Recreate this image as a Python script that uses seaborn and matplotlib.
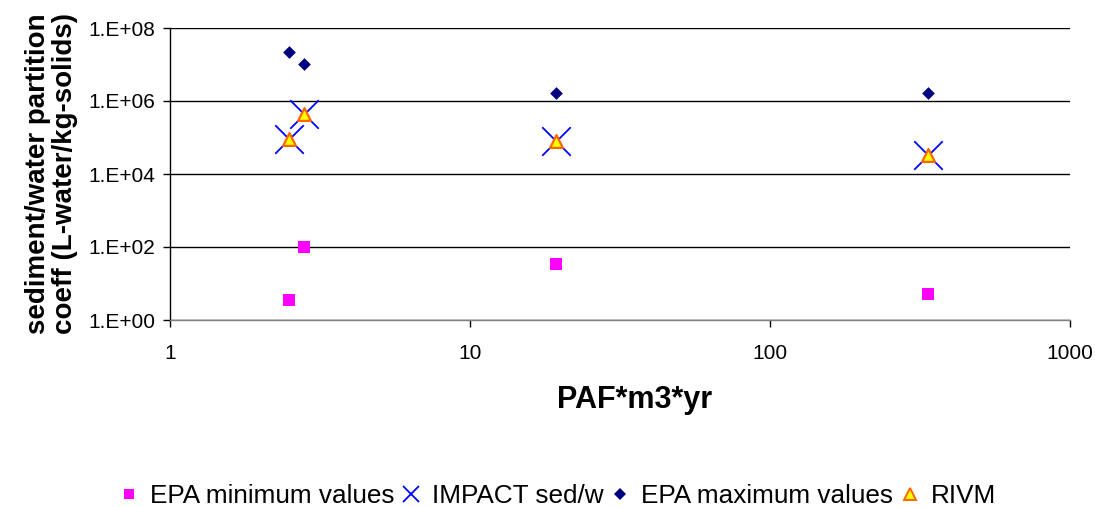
import matplotlib
matplotlib.use("Agg")
import matplotlib.pyplot as plt
import matplotlib.ticker as mticker
from matplotlib.lines import Line2D
import seaborn as sns
import pandas as pd

# Data
paf = [2.5, 2.8, 19.3, 335]
epa_min = [3.6, 100, 35, 5.2]
impact = [8.9e4, 4.4e5, 7.9e4, 3.4e4]
epa_max = [2.15e7, 1.03e7, 1.66e6, 1.66e6]
rivm = [8.9e4, 4.4e5, 7.9e4, 3.4e4]

series_names = ["EPA minimum values", "IMPACT sed/w", "EPA maximum values", "RIVM"]
x_ticks = [1, 10, 100, 1000]
x_ticklabels = ["1", "10", "100", "1000"]
y_ticks = [1e0, 1e2, 1e4, 1e6, 1e8]
y_ticklabels = ["1.E+00", "1.E+02", "1.E+04", "1.E+06", "1.E+08"]

sns.set_style("white")
plt.rcParams['font.family'] = ['Liberation Sans', 'DejaVu Sans']
plt.rcParams['text.color'] = 'black'
plt.rcParams['axes.labelcolor'] = 'black'
plt.rcParams['xtick.color'] = 'black'
plt.rcParams['ytick.color'] = 'black'

fig = plt.figure(figsize=(10.95, 5.07), dpi=100)
ax = fig.add_axes([170/1095, 1 - 320/507, (1070-170)/1095, (320-28)/507])

df = pd.DataFrame({"x": paf, "min": epa_min, "impact": impact, "max": epa_max, "rivm": rivm})

sns.scatterplot(data=df, x="x", y="min", ax=ax, marker="s", s=70, color="#FF00FF",
                edgecolor="#FF00FF", linewidth=0, zorder=3)
sns.scatterplot(data=df, x="x", y="impact", ax=ax, marker="x", s=420, color="#0000FF",
                linewidth=1.3, zorder=3)
sns.scatterplot(data=df, x="x", y="max", ax=ax, marker="D", s=42, color="#000080",
                edgecolor="#000080", linewidth=0, zorder=3)
sns.scatterplot(data=df, x="x", y="rivm", ax=ax, marker="^", s=85, color="#FFFF00",
                edgecolor="#FF6600", linewidth=1.6, zorder=4)

ax.set_xscale("log")
ax.set_yscale("log")
ax.set_xlim(1, 1000)
ax.set_ylim(1, 1e8)
ax.set_xticks(x_ticks)
ax.set_xticklabels(x_ticklabels)
ax.set_yticks(y_ticks)
ax.set_yticklabels(y_ticklabels)
ax.xaxis.set_minor_locator(mticker.NullLocator())
ax.yaxis.set_minor_locator(mticker.NullLocator())

ax.yaxis.grid(True, color="black", linewidth=1)
ax.xaxis.grid(False)
ax.set_axisbelow(True)
for side in ["top", "right"]:
    ax.spines[side].set_visible(False)
for side in ["left", "bottom"]:
    ax.spines[side].set_color("black")
    ax.spines[side].set_linewidth(1)
ax.spines["bottom"].set_color("#808080")

ax.tick_params(axis="both", which="major", direction="out", length=5, width=1,
               color="black", labelcolor="black", labelsize=15, bottom=True, left=True)
ax.tick_params(axis="y", pad=5.5)
ax.tick_params(axis="x", pad=12)

ax.set_xlabel("PAF*m3*yr", fontsize=22, fontweight="bold", color="black")
ax.xaxis.set_label_coords((635 - 170) / 900, (320 - 385) / 292)
ax.set_ylabel("sediment/water partition\ncoeff (L-water/kg-solids)", fontsize=20,
              fontweight="bold", linespacing=1.05, color="black")
ax.yaxis.set_label_coords((78 - 170) / 900, 0.5)

handles = [
    Line2D([], [], linestyle="none", marker="s", markersize=7.5, color="#FF00FF", markeredgewidth=0),
    Line2D([], [], linestyle="none", marker="x", markersize=11, color="#0000FF", markeredgewidth=1.3),
    Line2D([], [], linestyle="none", marker="D", markersize=6.5, color="#000080", markeredgewidth=0),
    Line2D([], [], linestyle="none", marker="^", markersize=8, markerfacecolor="#FFFF00",
           markeredgecolor="#FF6600", markeredgewidth=1.4),
]
leg = fig.legend(handles, series_names, loc="center", bbox_to_anchor=(558 / 1095, 1 - 496 / 507), ncol=4,
                 frameon=False, fontsize=18.8, handletextpad=0.45, columnspacing=0.3,
                 handlelength=0.7, borderaxespad=0, borderpad=0)
for t in leg.get_texts():
    t.set_color("black")

fig.savefig("out.png", dpi=100)
